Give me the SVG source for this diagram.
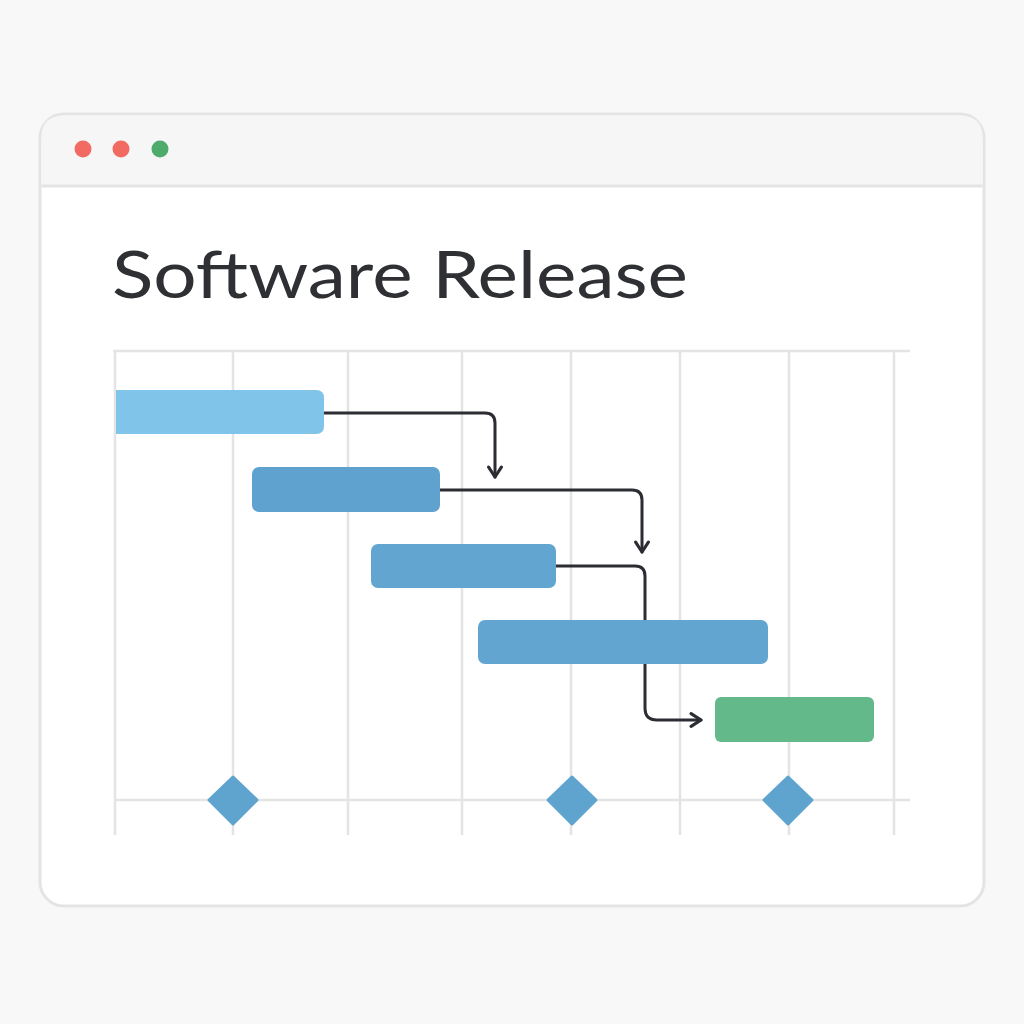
<svg xmlns="http://www.w3.org/2000/svg" width="1024" height="1024" viewBox="0 0 1024 1024">
<defs>
<style>
.grid{stroke:#e4e4e4;stroke-width:2.5;fill:none}
.bar{fill:#62a5d1}
.conn{stroke:#2b2d33;stroke-width:3;fill:none;stroke-linecap:round;stroke-linejoin:round}
.ms{fill:#5fa3cf;stroke:#5fa3cf;stroke-width:3;stroke-linejoin:round}
</style>
<marker id="arr" viewBox="0 0 12 12" refX="10" refY="6" markerWidth="17" markerHeight="17" markerUnits="userSpaceOnUse" orient="auto">
<path d="M3,1.5 L10,6 L3,10.5" fill="none" stroke="#2b2d33" stroke-width="2.2" stroke-linecap="round" stroke-linejoin="round"/>
</marker>
</defs>
<rect width="1024" height="1024" fill="#f8f8f8"/>
<g id="window">
<rect x="40" y="114" width="944" height="792" rx="24" fill="#ffffff" stroke="#e4e4e4" stroke-width="3"/>
<path d="M41.5,186 V138 Q41.5,115.5 64,115.5 H960 Q982.5,115.5 982.5,138 V186 Z" fill="#f6f6f6"/>
<line x1="41.5" y1="186" x2="982.5" y2="186" stroke="#e4e4e4" stroke-width="3"/>
<circle cx="83" cy="149" r="8.5" fill="#f26b63"/>
<circle cx="121" cy="149" r="8.5" fill="#f26b63"/>
<circle cx="160" cy="149" r="8.5" fill="#4fab6b"/>
</g>
<text id="title" x="112" y="298" font-family="Lato, 'Liberation Sans', sans-serif" font-size="66" fill="#2e3034" textLength="576" lengthAdjust="spacingAndGlyphs">Software Release</text>
<g id="grid">
<line class="grid" x1="113" y1="351" x2="910" y2="351"/>
<line class="grid" x1="115" y1="800" x2="910" y2="800"/>
<line class="grid" x1="115" y1="351" x2="115" y2="835"/>
<line class="grid" x1="233" y1="351" x2="233" y2="835"/>
<line class="grid" x1="348" y1="351" x2="348" y2="835"/>
<line class="grid" x1="462" y1="351" x2="462" y2="835"/>
<line class="grid" x1="571" y1="351" x2="571" y2="835"/>
<line class="grid" x1="680" y1="351" x2="680" y2="835"/>
<line class="grid" x1="789" y1="351" x2="789" y2="835"/>
<line class="grid" x1="894" y1="351" x2="894" y2="835"/>
</g>
<g id="connectors">
<path class="conn" d="M324,413 H485 Q495,413 495,423 V477" marker-end="url(#arr)"/>
<path class="conn" d="M440,490 H632 Q642,490 642,500 V552" marker-end="url(#arr)"/>
<path class="conn" d="M556,566 H635 Q645,566 645,576 V708 Q645,720 657,720 H701" marker-end="url(#arr)"/>
</g>
<g id="task1"><path d="M116,390 H316 Q324,390 324,398 V426 Q324,434 316,434 H116 Z" fill="#80c5e9"/></g>
<g id="task2"><rect class="bar" x="252" y="467" width="188" height="45" rx="7" fill="#5fa2cf" style="fill:#5fa2cf"/></g>
<g id="task3"><rect class="bar" x="371" y="544" width="185" height="44" rx="7"/></g>
<g id="task4"><rect class="bar" x="478" y="620" width="290" height="44" rx="7"/></g>
<g id="task5"><rect x="715" y="697" width="159" height="45" rx="6" fill="#64b98b"/></g>
<g id="milestone1"><path class="ms" d="M233,777 L257,800 L233,824 L209,800 Z"/></g>
<g id="milestone2"><path class="ms" d="M572,777 L596,800 L572,824 L548,800 Z"/></g>
<g id="milestone3"><path class="ms" d="M788,777 L812,800 L788,824 L764,800 Z"/></g>
</svg>
